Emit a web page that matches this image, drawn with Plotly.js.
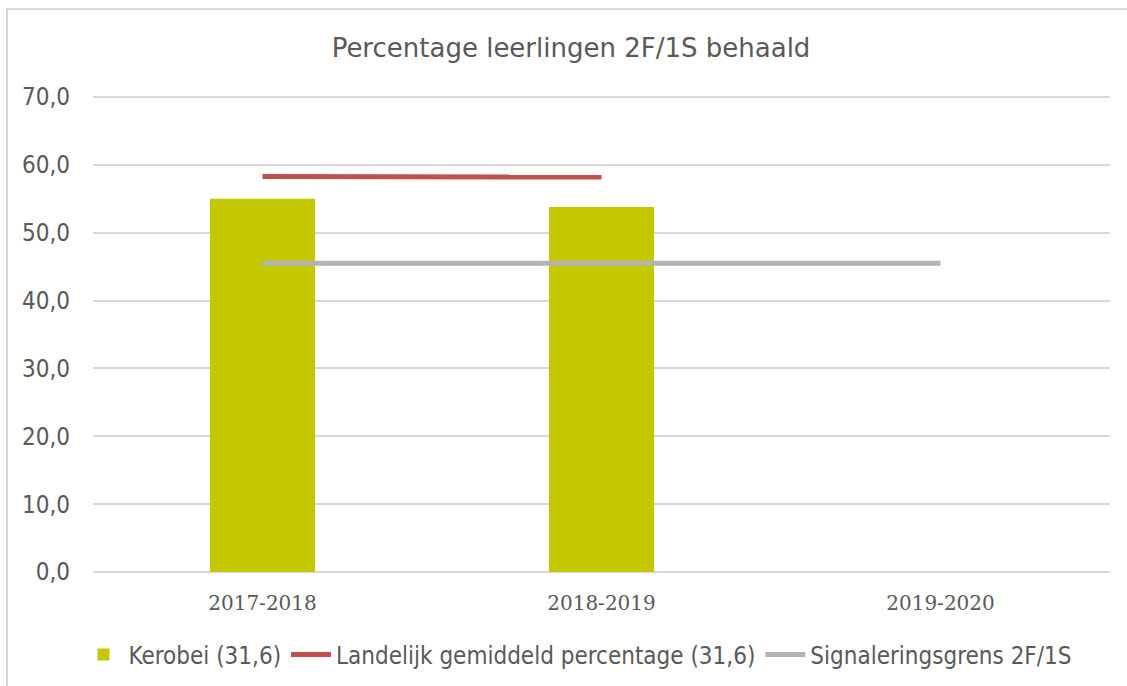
<!DOCTYPE html>
<html>
<head>
<meta charset="utf-8">
<script src="https://cdn.plot.ly/plotly-3.0.1.min.js"></script>
<style>
  html, body { margin: 0; padding: 0; background: #ffffff; }
  #frame { position: absolute; left: 6px; top: 8px; width: 1200px; height: 760px; border-left: 2px solid #D9D9D9; border-top: 2px solid #D9D9D9; pointer-events: none; z-index: 5; }
  #chart { position: absolute; left: 0; top: 0; width: 1127px; height: 686px; }
</style>
</head>
<body>
<div id="chart"></div>
<div id="frame"></div>
<script>
const categories = ['2017-2018', '2018-2019', '2019-2020'];
const kerobeiValues = [55.0, 53.8, null];
const landelijkCategories = ['2017-2018', '2018-2019'];
const landelijkValues = [58.3, 58.2];
const signaleringValues = [45.5, 45.5, 45.5];
const seriesNames = ['Kerobei (31,6)', 'Landelijk gemiddeld percentage (31,6)', 'Signaleringsgrens 2F/1S'];
const titleText = 'Percentage leerlingen 2F/1S behaald';

const sansCond = 'DejaVu Sans Condensed, DejaVu Sans, sans-serif';

const traces = [
  {
    type: 'bar', x: categories, y: kerobeiValues, name: seriesNames[0],
    marker: { color: '#C4C800' }, width: 0.31, hoverinfo: 'x+y'
  },
  {
    type: 'scatter', mode: 'lines', x: landelijkCategories, y: landelijkValues, name: seriesNames[1],
    line: { color: '#C0504D', width: 5 }, hoverinfo: 'x+y'
  },
  {
    type: 'scatter', mode: 'lines', x: categories, y: signaleringValues, name: seriesNames[2],
    line: { color: '#B3B3B3', width: 5 }, hoverinfo: 'x+y'
  }
];

const layout = {
  width: 1127, height: 686,
  margin: { l: 93, r: 17, t: 96, b: 114 },
  paper_bgcolor: '#ffffff', plot_bgcolor: '#ffffff',
  separators: ',.',
  font: { family: sansCond, color: '#595959', size: 24 },
  title: {
    text: titleText, font: { family: 'DejaVu Sans, Verdana, sans-serif', size: 26, color: '#595959' },
    x: 571 / 1127, xanchor: 'center', xref: 'container', y: 1 - 48 / 686, yanchor: 'middle', yref: 'container'
  },
  xaxis: {
    type: 'category', showgrid: false, showline: false, zeroline: false, ticks: '',
    tickfont: { family: 'DejaVu Serif, Liberation Serif, serif', size: 20, color: '#595959' },
    ticklabelstandoff: 17
  },
  yaxis: {
    range: [0, 70.15], tickvals: [0, 10, 20, 30, 40, 50, 60, 70], tickformat: '.1f',
    showgrid: true, gridcolor: '#D9D9D9', gridwidth: 2,
    zeroline: true, zerolinecolor: '#D9D9D9', zerolinewidth: 2,
    showline: false, ticks: '', ticklabelstandoff: 22,
    tickfont: { family: sansCond, size: 24, color: '#595959' }
  },
  showlegend: true,
  legend: {
    orientation: 'h', xref: 'container', yref: 'container',
    x: 578 / 1127, xanchor: 'center', y: 1 - 655 / 686, yanchor: 'middle',
    font: { family: sansCond, size: 24, color: '#595959' },
    itemwidth: 40, tracegroupgap: 0
  },
  bargap: 0.69
};

Plotly.newPlot('chart', traces, layout, { displayModeBar: false, staticPlot: false });
</script>
</body>
</html>
